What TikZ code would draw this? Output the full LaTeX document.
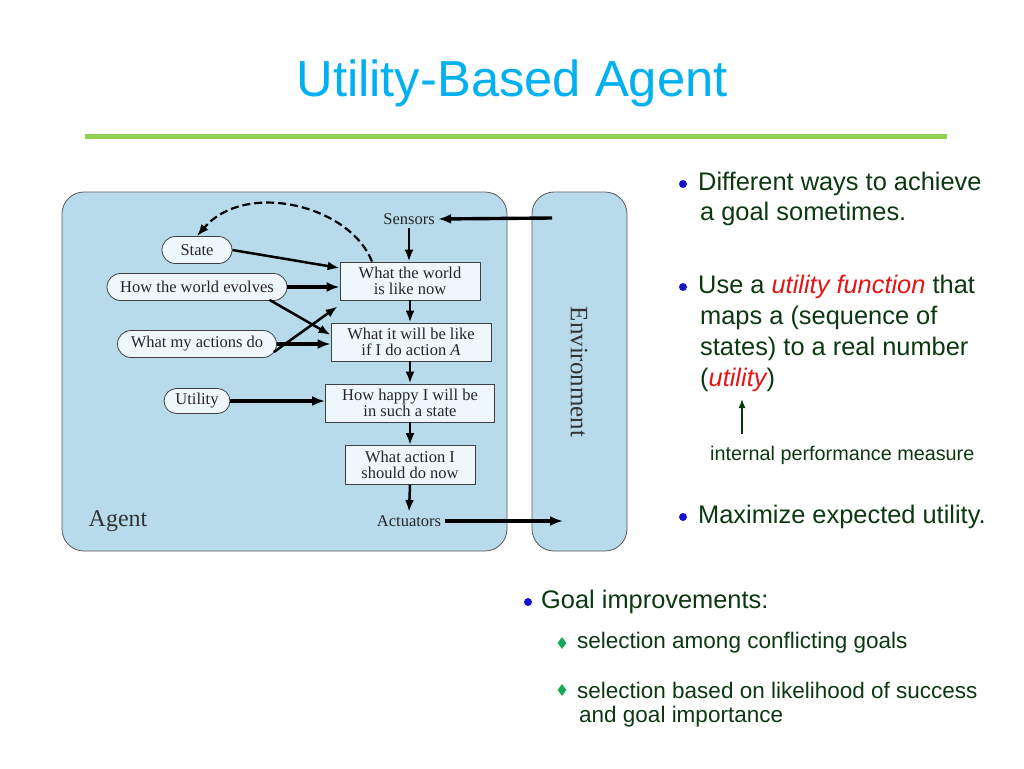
\documentclass[tikz,border=0pt]{standalone}
\usepackage{fontspec}
\setmainfont{Liberation Sans}
\newfontfamily\diagfont{Liberation Serif}
\usetikzlibrary{arrows.meta,shapes.misc,shapes.geometric}
\definecolor{titleblue}{RGB}{0,176,240}
\definecolor{linegreen}{RGB}{146,208,80}
\definecolor{panelblue}{RGB}{183,219,234}
\definecolor{boxfill}{RGB}{238,247,252}
\definecolor{txtgreen}{RGB}{12,56,16}
\definecolor{bulletblue}{RGB}{20,20,200}
\definecolor{diamgreen}{RGB}{20,170,90}
\definecolor{hilite}{RGB}{230,20,20}
\tikzset{
  panel/.style={draw=gray!70!black, line width=0.8pt, fill=panelblue, rounded corners=22pt},
  rbox/.style={draw=black!75, line width=0.8pt, fill=boxfill, rounded rectangle, font=\diagfont\fontsize{16.5}{17}\selectfont, text=black!85, minimum height=27pt, inner xsep=4pt, inner ysep=2pt},
  sbox/.style={draw=black!75, line width=0.8pt, fill=boxfill, rectangle, font=\diagfont\fontsize{16.5}{16}\selectfont, text=black!85, align=center, minimum height=38pt, inner sep=1pt},
  lbl/.style={font=\diagfont\fontsize{16.5}{17}\selectfont, text=black!85},
  thk/.style={line width=3.4pt, -{Latex[length=13pt,width=10pt]}},
  thn/.style={line width=2.5pt, -{Latex[length=12pt,width=9pt]}},
  btxt/.style={anchor=west, text=txtgreen, font=\fontsize{25.4}{30}\selectfont, inner sep=0pt},
  stxt/.style={anchor=west, text=txtgreen, font=\fontsize{22.5}{27}\selectfont, inner sep=0pt},
  dot/.style={circle, fill=bulletblue, inner sep=0pt, minimum size=8pt},
  dia/.style={diamond, fill=diamgreen, inner sep=0pt, minimum width=9pt, minimum height=12pt}
}
\begin{document}
\begin{tikzpicture}[x=1pt,y=-1pt]
\useasboundingbox (0,0) rectangle (1024,768);
% title
\node[text=titleblue, font=\fontsize{50.7}{52}\selectfont] (title) at (512,83) {Utility-Based Agent};
\draw[linegreen, line width=5pt] (85,136) -- (947,136);

% panels
\draw[panel] (62,192) rectangle (507,551);
\draw[panel] (532,192) rectangle (627,551);
\node[font=\diagfont\fontsize{25}{26}\selectfont, text=black!80, rotate=-90] (env) at (579,372) {Environment};
\node[font=\diagfont\fontsize{24}{25}\selectfont, text=black!80] (agent) at (118,521) {Agent};

% labels
\node[lbl] (sensors) at (409,219) {Sensors};
\node[lbl] (act) at (409,521) {Actuators};
\coordinate (envin) at (552,218);
\coordinate (envout) at (563,521);

% rounded nodes
\node[rbox, minimum width=78pt] (state) at (197,250) {State};
\node[rbox, minimum width=188pt] (evolves) at (197,287) {How the world evolves};
\node[rbox, minimum width=167pt] (actions) at (197,344) {What my actions do};
\node[rbox, minimum width=74pt, minimum height=25pt] (utility) at (197,401) {Utility};

% rectangles
\node[sbox, minimum width=140pt] (world) at (410,281) {What the world\\is like now};
\node[sbox, minimum width=160pt] (willbe) at (411,342) {What it will be like\\if I do action \textit{A}};
\node[sbox, minimum width=169pt] (happy) at (410,403) {How happy I will be\\in such a state};
\node[sbox, minimum width=130pt, minimum height=39pt] (action) at (410,465) {What action I\\should do now};

% arrows
\draw[thk] (envin) -- (sensors.east);
\draw[thn] (sensors.south) -- (world.north -| sensors.south);
\draw[thn] (state.east) -- (world.west |- 0,268);
\draw[thk] (evolves.east) -- (world.west |- evolves.east);
\draw[thn] ([xshift=-4pt,yshift=1pt]evolves.south east) -- (willbe.west |- 0,335);
\draw[thn] ([xshift=-3pt,yshift=-8pt]actions.east) -- ([xshift=-2pt,yshift=-6pt]world.south west);
\draw[thk] (actions.east) -- (willbe.west |- actions.east);
\draw[thn] (world.south) -- (willbe.north -| world.south);
\draw[thn] (willbe.south -| world.south) -- (happy.north -| world.south);
\draw[thk] (utility.east) -- (happy.west |- utility.east);
\draw[thn] (happy.south) -- (action.north);
\draw[thn] (action.south) -- (act.north);
\draw[thk] (act.east) -- (envout);
\draw[line width=2.2pt, dash pattern=on 8pt off 4pt, -{Latex[length=12pt,width=9pt]}]
  ([xshift=-38pt]world.north) .. controls (350,205) and (245,180) .. (state.north);

% right text
\node[dot] (b1) at (683,184) {};
\node[btxt] (t1a) at (698,184) {Different ways to achieve};
\node[btxt] (t1b) at (700,214) {a goal sometimes.};
\node[dot] (b2) at (683,287) {};
\node[btxt] (t2a) at (698,287) {Use a \textcolor{hilite}{\itshape utility function} that};
\node[btxt] (t2b) at (700,318) {maps a (sequence of};
\node[btxt] (t2c) at (700,349) {states) to a real number};
\node[btxt] (t2d) at (700,380) {(\textcolor{hilite}{\itshape utility})};
\node[anchor=west, text=txtgreen, font=\fontsize{19.8}{22}\selectfont, inner sep=0pt] (ipm) at (710,455) {internal performance measure};
\draw[txtgreen, line width=1.4pt, -{Latex[length=9pt,width=7pt]}] (742,434) -- (742,399);
\node[dot] (b3) at (683,517) {};
\node[btxt] (t3) at (698,517) {Maximize expected utility.};
\node[dot] (b4) at (528,602) {};
\node[btxt] (t4) at (541,602) {Goal improvements:};
\node[dia] (d1) at (562,643) {};
\node[stxt] (s1) at (577,643) {selection among conflicting goals};
\node[dia] (d2) at (562,690) {};
\node[stxt] (s2) at (577,690) {selection based on likelihood of success};
\node[stxt] (s3) at (579,717) {and goal importance};
\end{tikzpicture}
\end{document}
